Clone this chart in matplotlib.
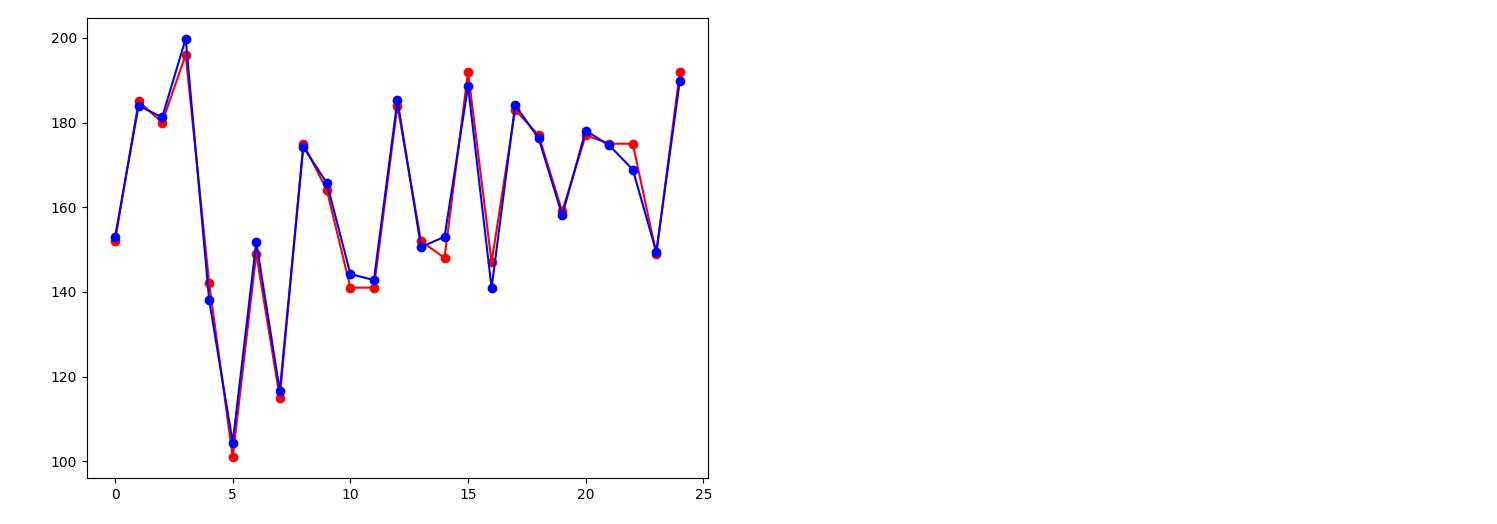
import numpy as np
import matplotlib
matplotlib.use("Agg")
import matplotlib.pyplot as plt

###############################################################################

x = np.arange(25)
actual = [152, 185, 180, 196, 142, 101, 149, 115, 175, 164, 141, 141, 184,
          152, 148, 192, 147, 183, 177, 159, 177, 175, 175, 149, 192]
predicted = [153.0, 184.0, 181.2, 199.8, 138.0, 104.4, 151.8, 116.6, 174.2,
             165.7, 144.2, 142.8, 185.3, 150.6, 153.0, 188.6, 140.9, 184.1,
             176.3, 158.1, 178.1, 174.6, 168.9, 149.4, 189.9]

###############################################################################

fig = plt.figure(figsize=(14.97, 5.24), dpi=100)
ax = fig.add_axes([0.058, 0.088, 0.415, 0.878])
ax.plot(x, actual, 'ro-')
ax.plot(x, predicted, 'bo-')
fig.savefig("out.png", dpi=100)
